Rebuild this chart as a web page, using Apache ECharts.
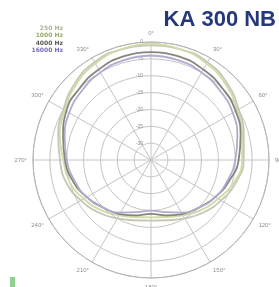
<!DOCTYPE html>
<html><head><meta charset="utf-8">
<script src="https://cdn.jsdelivr.net/npm/echarts@6/dist/echarts.min.js"></script>
<style>html,body{margin:0;padding:0;background:#fff}#c{width:279px;height:287px}</style>
</head><body><div id="c"></div>
<script>
const title = "KA 300 NB";
const angles = [0,15,30,45,60,75,90,105,120,135,150,165,180,195,210,225,240,255,270,285,300,315,330,345,360];
const seriesNames = ["250 Hz","1000 Hz","4000 Hz","16000 Hz"];
const s250   = [-1,-1,-1.5,-3,-5,-6.5,-7.5,-9,-11,-13,-15,-16.5,-17,-16.5,-15,-13,-11,-9,-8,-6.5,-5,-3,-1.5,-1,-1];
const s1000  = [-0.5,-1,-2,-3.5,-5.5,-7,-8,-9.5,-12,-14,-16,-17.5,-18,-17.5,-16,-14,-12,-10,-9,-7,-5.5,-3.5,-2,-1,-0.5];
const s4000  = [-3,-3.2,-4,-5,-6,-7.5,-9,-11,-13,-15,-16.5,-18,-19,-18,-16.5,-15,-13,-11,-9.5,-8,-6,-5,-4,-3.2,-3];
const s16000 = [-4,-4.3,-5,-6,-7,-8.5,-10,-11.5,-13,-15,-17,-19,-20,-19,-17,-15,-13,-11.5,-10,-8.5,-7,-6,-5,-4.3,-4];
const colors = ["#c8c6b4","#cfdca8","#88847e","#b4aad0"];
const legendColors = ["#aab294","#98aa6c","#5e5650","#7c6cb0"];

const all = [s250,s1000,s4000,s16000];
const chart = echarts.init(document.getElementById('c'));
chart.setOption({
  animation:false,
  backgroundColor:'#fff',
  title:{text:title,right:-2,top:4,textStyle:{fontFamily:'Liberation Sans',fontWeight:'bold',fontSize:22,color:'#24387a'}},
  polar:{center:[151,160],radius:118},
  angleAxis:{
    type:'value',min:0,max:360,interval:30,startAngle:90,clockwise:true,
    axisLine:{lineStyle:{color:'#b4b4b4',width:1}},
    axisTick:{show:false},
    axisLabel:{formatter:v=>v===360?'':v+'°',fontSize:6,color:'#909090',margin:6},
    splitLine:{lineStyle:{color:'#c4c4c4',width:1}}
  },
  radiusAxis:{
    type:'value',min:-35,max:0,interval:5,
    axisLine:{show:false},axisTick:{show:false},
    axisLabel:{fontSize:5,color:'#8c8c8c',formatter:v=>v===-35?'':String(v)},
    splitLine:{lineStyle:{color:'#c4c4c4',width:1}}
  },
  series:all.map((arr,i)=>({
    name:seriesNames[i],type:'line',coordinateSystem:'polar',smooth:true,symbol:'none',
    lineStyle:{color:colors[i],width:1.8},itemStyle:{color:colors[i]},
    data:arr.map((v,k)=>[v,angles[k]])
  })),
  graphic:seriesNames.map((n,i)=>({
    type:'text',x:63,y:28+i*7.5,
    style:{text:n,textAlign:'right',textVerticalAlign:'middle',fill:legendColors[i],font:'bold 6px "DejaVu Sans"'}
  })).concat([{type:'rect',left:10,top:277,shape:{width:5,height:10},style:{fill:'#8fd08f'}}])
});
</script></body></html>
